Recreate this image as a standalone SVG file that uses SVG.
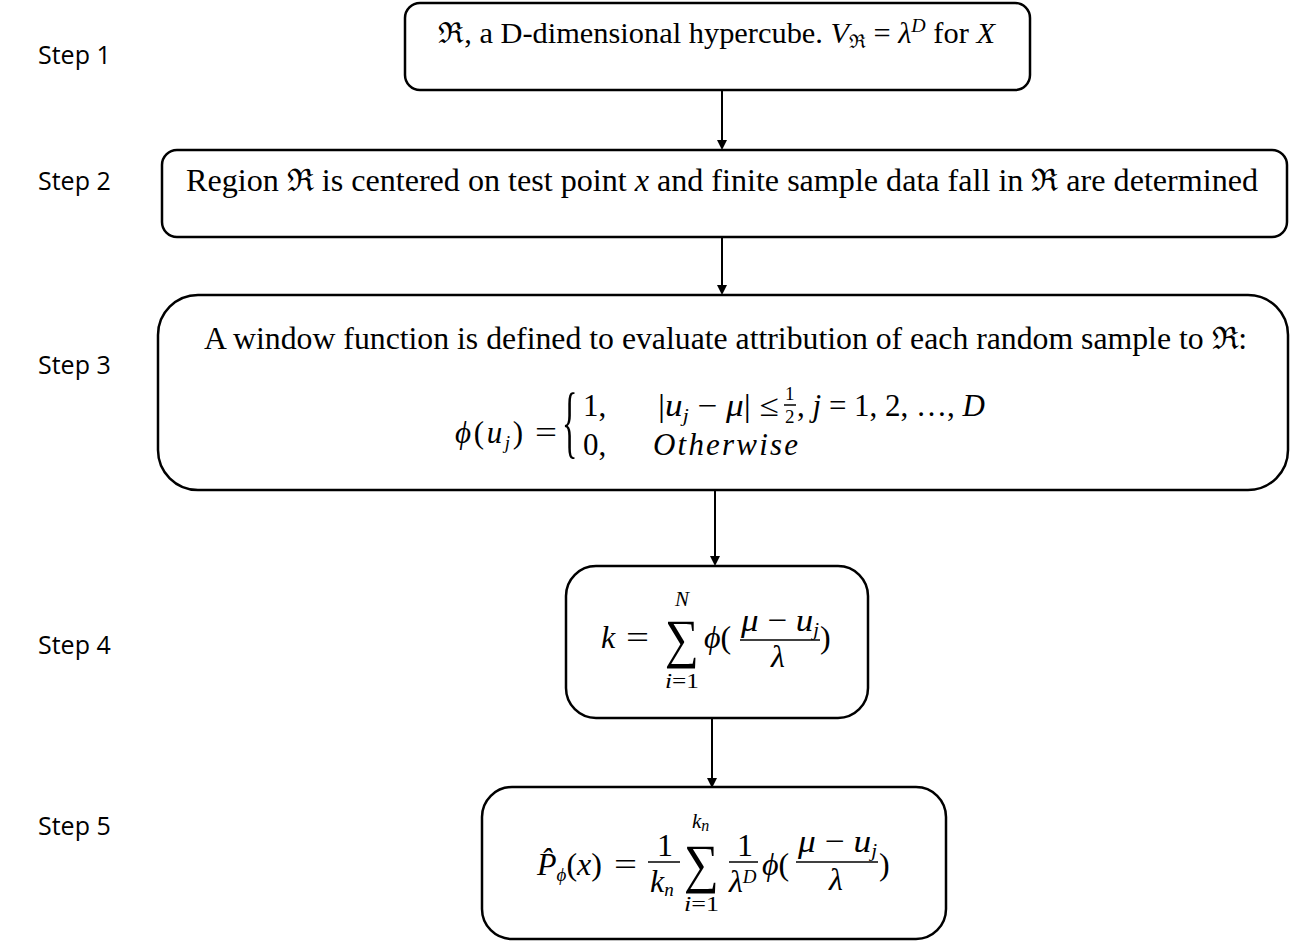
<svg xmlns="http://www.w3.org/2000/svg" width="1290" height="945" viewBox="0 0 1290 945">
<style>
.box{fill:#fff;stroke:#000;stroke-width:2.5}
.step{font-family:"Open Sans","Liberation Sans",sans-serif;font-size:25px;fill:#000}
.t{font-family:"Liberation Serif","DejaVu Serif",serif;font-size:29px;fill:#000}
.f{font-size:31px}
.m{font-family:"Liberation Serif","DejaVu Serif",serif;font-size:32px;fill:#000}
.i{font-style:italic}
.s{font-size:19px}
.sm{font-size:21px}
.fr{font-size:19px}
.big{font-size:54px}
.conn{stroke:#000;stroke-width:2;fill:none}
.bar{stroke:#000;stroke-width:1.5}
</style>
<defs>
<marker id="ah" markerWidth="10" markerHeight="10" refX="8" refY="5" orient="auto" markerUnits="userSpaceOnUse" viewBox="0 0 10 10">
<path d="M0,0 L10,5 L0,10 z" fill="#000"/>
</marker>
</defs>
<rect width="1290" height="945" fill="#fff"/>
<g id="labels">
<text class="step" x="38" y="64">Step 1</text>
<text class="step" x="38" y="190">Step 2</text>
<text class="step" x="38" y="374">Step 3</text>
<text class="step" x="38" y="654">Step 4</text>
<text class="step" x="38" y="835">Step 5</text>
</g>
<g id="connectors">
<line class="conn" x1="722" y1="90" x2="722" y2="148" marker-end="url(#ah)"/>
<line class="conn" x1="722" y1="237" x2="722" y2="293" marker-end="url(#ah)"/>
<line class="conn" x1="715" y1="490" x2="715" y2="564" marker-end="url(#ah)"/>
<line class="conn" x1="712" y1="718" x2="712" y2="786" marker-end="url(#ah)"/>
</g>
<g id="step1">
<rect class="box" x="405" y="3" width="625" height="87" rx="15"/>
<text class="t" x="438" y="43" textLength="557" lengthAdjust="spacingAndGlyphs">ℜ, a D-dimensional hypercube. <tspan class="i">V</tspan><tspan class="s" dy="5">ℜ</tspan><tspan dy="-5"> = </tspan><tspan class="i">λ</tspan><tspan class="s i" dy="-11">D</tspan><tspan dy="11"> for </tspan><tspan class="i">X</tspan></text>
</g>
<g id="step2">
<rect class="box" x="162" y="150" width="1125" height="87" rx="15"/>
<text class="t f" x="186" y="191" textLength="1072" lengthAdjust="spacingAndGlyphs">Region ℜ is centered on test point <tspan class="i">x</tspan> and finite sample data fall in ℜ are determined</text>
</g>
<g id="step3">
<rect class="box" x="158" y="295" width="1130" height="195" rx="40"/>
<text class="t f" x="204" y="349" textLength="1043" lengthAdjust="spacingAndGlyphs">A window function is defined to evaluate attribution of each random sample to ℜ:</text>
<text class="t f" x="455" y="443" textLength="68" lengthAdjust="spacing"><tspan class="i">ϕ</tspan>(<tspan class="i">u</tspan><tspan class="s i" dy="6">j</tspan><tspan dy="-6">)</tspan></text>
<text class="t f" x="535" y="443" textLength="22" lengthAdjust="spacingAndGlyphs">=</text>
<text class="t" transform="translate(562,448) scale(0.4,1)" style="font-size:80px">{</text>
<text class="t f" x="583" y="416">1,</text>
<text class="t f" x="658" y="416" textLength="121" lengthAdjust="spacingAndGlyphs">|<tspan class="i">u</tspan><tspan class="s i" dy="6">j</tspan><tspan dy="-6"> − </tspan><tspan class="i">μ</tspan>| ≤</text>
<text class="t fr" x="785" y="400">1</text>
<line class="bar" x1="784" y1="405" x2="796" y2="405" stroke-width="1.2"/>
<text class="t fr" x="785" y="423">2</text>
<text class="t f" x="797" y="416">, <tspan class="i">j</tspan> = 1, 2, …, <tspan class="i">D</tspan></text>
<text class="t f" x="583" y="455">0,</text>
<text class="t f i" x="653" y="455" textLength="145" lengthAdjust="spacing">Otherwise</text>
</g>
<g id="step4">
<rect class="box" x="566" y="566" width="302" height="152" rx="30"/>
<text class="m i" x="601" y="648">k</text>
<text class="m" x="626" y="648" textLength="23" lengthAdjust="spacingAndGlyphs">=</text>
<text class="m big" x="665" y="657" textLength="34" lengthAdjust="spacingAndGlyphs">∑</text>
<text class="m i sm" x="675" y="606">N</text>
<text class="m sm" x="665" y="688" textLength="34" lengthAdjust="spacingAndGlyphs"><tspan class="i">i</tspan>=1</text>
<text class="m" x="704" y="648"><tspan class="i">ϕ</tspan>(</text>
<text class="m" x="741" y="631" textLength="78" lengthAdjust="spacingAndGlyphs"><tspan class="i">μ</tspan> − <tspan class="i">u</tspan><tspan class="s i" dy="5">j</tspan></text>
<line class="bar" x1="740" y1="640" x2="820" y2="640"/>
<text class="m i" x="771" y="667">λ</text>
<text class="m" x="820" y="648">)</text>
</g>
<g id="step5">
<rect class="box" x="482" y="787" width="464" height="152" rx="30"/>
<text class="m" x="537" y="875"><tspan class="i">P̂</tspan><tspan class="s i" dy="6">ϕ</tspan><tspan dy="-6">(</tspan><tspan class="i">x</tspan>)</text>
<text class="m" x="614" y="875" textLength="23" lengthAdjust="spacingAndGlyphs">=</text>
<text class="m" x="657" y="856">1</text>
<line class="bar" x1="648" y1="862" x2="680" y2="862"/>
<text class="m" x="650" y="892"><tspan class="i">k</tspan><tspan class="s i" dy="4">n</tspan></text>
<text class="m big" x="684" y="882" textLength="35" lengthAdjust="spacingAndGlyphs">∑</text>
<text class="m sm" x="692" y="828"><tspan class="i">k</tspan><tspan class="i" style="font-size:16px" dy="3">n</tspan></text>
<text class="m sm" x="684" y="911" textLength="35" lengthAdjust="spacingAndGlyphs"><tspan class="i">i</tspan>=1</text>
<text class="m" x="737" y="856">1</text>
<line class="bar" x1="729" y1="862" x2="758" y2="862"/>
<text class="m" x="729" y="892"><tspan class="i">λ</tspan><tspan class="s i" dy="-9">D</tspan></text>
<text class="m" x="762" y="875"><tspan class="i">ϕ</tspan>(</text>
<text class="m" x="798" y="852" textLength="79" lengthAdjust="spacingAndGlyphs"><tspan class="i">μ</tspan> − <tspan class="i">u</tspan><tspan class="s i" dy="5">j</tspan></text>
<line class="bar" x1="796" y1="862" x2="878" y2="862"/>
<text class="m i" x="829" y="890">λ</text>
<text class="m" x="879" y="875">)</text>
</g>
</svg>
